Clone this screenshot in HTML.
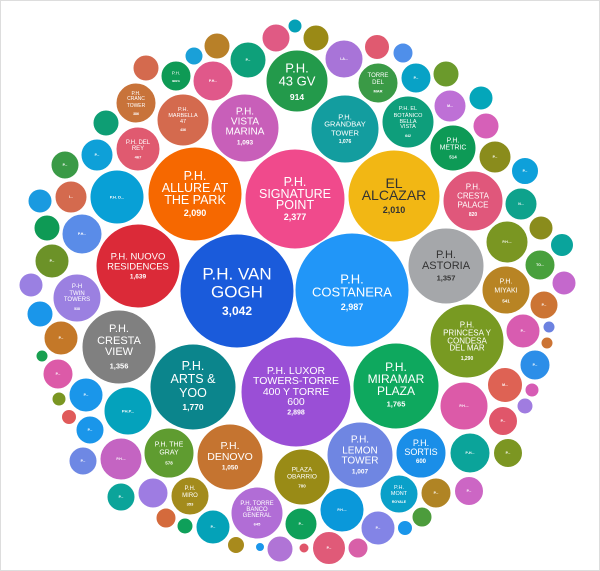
<!DOCTYPE html>
<html><head><meta charset="utf-8"><style>
html,body{margin:0;padding:0;background:#fff;}
svg{display:block;}
text{font-family:"Liberation Sans Narrow","Liberation Sans",sans-serif;fill:#fff;text-anchor:middle;dominant-baseline:central;}
.b{font-weight:bold;}
.d{fill:#333;}
circle{stroke:#fff;stroke-width:1;}
</style></head><body>
<svg width="600" height="571" viewBox="0 0 600 571" xmlns="http://www.w3.org/2000/svg">
<rect x="0.5" y="0.5" width="599" height="570" fill="#fff" stroke="#ddd"/>
<!-- big -->
<circle cx="237" cy="291" r="57" fill="#1a5bdb"/>
<text x="237" y="274" font-size="17">P.H. VAN</text><text x="237" y="292" font-size="17">GOGH</text><text x="237" y="311" font-size="12" class="b">3,042</text>
<circle cx="352" cy="290" r="57" fill="#2196f8"/>
<text x="352" y="279" font-size="13">P.H.</text><text x="352" y="292" font-size="13">COSTANERA</text><text x="352" y="307" font-size="9" class="b">2,987</text>
<circle cx="296" cy="392" r="55" fill="#9a4fd6"/>
<text x="296" y="371" font-size="10.5">P.H. LUXOR</text><text x="296" y="381" font-size="10.5">TOWERS-TORRE</text><text x="296" y="392" font-size="10.5">400 Y TORRE</text><text x="296" y="402" font-size="10.5">600</text><text x="296" y="413" font-size="7" class="b">2,898</text>
<circle cx="295" cy="199" r="50" fill="#f04a8c"/>
<text x="295" y="182" font-size="12.5">P.H.</text><text x="295" y="194" font-size="12.5">SIGNATURE</text><text x="295" y="205" font-size="12.5">POINT</text><text x="295" y="217" font-size="9" class="b">2,377</text>
<circle cx="195" cy="194" r="47" fill="#f66800"/>
<text x="195" y="176" font-size="12.5">P.H.</text><text x="195" y="188" font-size="12.5">ALLURE AT</text><text x="195" y="200" font-size="12.5">THE PARK</text><text x="195" y="213" font-size="9" class="b">2,090</text>
<circle cx="394" cy="196" r="46" fill="#f2b714"/>
<text x="394" y="183" font-size="14" class="d">EL</text><text x="394" y="195" font-size="14" class="d">ALCAZAR</text><text x="394" y="210" font-size="9" class="b d">2,010</text>
<circle cx="138" cy="266" r="42" fill="#db2a38"/>
<text x="138" y="257" font-size="9.5">P.H. NUOVO</text><text x="138" y="267" font-size="9.5">RESIDENCES</text><text x="138" y="277" font-size="6.5" class="b">1,639</text>
<circle cx="446" cy="266" r="38" fill="#a5a7aa"/>
<text x="446" y="255" font-size="11" class="d">P.H.</text><text x="446" y="266" font-size="11" class="d">ASTORIA</text><text x="446" y="278" font-size="7.5" class="b d">1,357</text>
<circle cx="119" cy="347" r="37" fill="#808080"/>
<text x="119" y="329" font-size="11">P.H.</text><text x="119" y="341" font-size="11">CRESTA</text><text x="119" y="352" font-size="11">VIEW</text><text x="119" y="366" font-size="7.5" class="b">1,356</text>
<circle cx="193" cy="387" r="43" fill="#0b858c"/>
<text x="193" y="366" font-size="12.5">P.H.</text><text x="193" y="379" font-size="12.5">ARTS &amp;</text><text x="193" y="393" font-size="12.5">YOO</text><text x="193" y="407" font-size="8.5" class="b">1,770</text>
<circle cx="396" cy="386" r="43" fill="#0ea85e"/>
<text x="396" y="367" font-size="12">P.H.</text><text x="396" y="379" font-size="12">MIRAMAR</text><text x="396" y="391" font-size="12">PLAZA</text><text x="396" y="404" font-size="7.5" class="b">1,765</text>
<circle cx="467" cy="341" r="37" fill="#789a22"/>
<text x="467" y="325" font-size="8">P.H.</text><text x="467" y="333" font-size="8">PRINCESA Y</text><text x="467" y="341" font-size="8">CONDESA</text><text x="467" y="348" font-size="8">DEL MAR</text><text x="467" y="359" font-size="5" class="b">1,290</text>
<circle cx="230" cy="457" r="33" fill="#c57430"/>
<text x="230" y="446" font-size="10.5">P.H.</text><text x="230" y="457" font-size="10.5">DENOVO</text><text x="230" y="468" font-size="6.5" class="b">1,050</text>
<circle cx="360" cy="455" r="33" fill="#6f86e2"/>
<text x="360" y="440" font-size="10">P.H.</text><text x="360" y="451" font-size="10">LEMON</text><text x="360" y="461" font-size="10">TOWER</text><text x="360" y="472" font-size="6.5" class="b">1,007</text>
<circle cx="302" cy="477" r="28" fill="#998b16"/>
<text x="302" y="470" font-size="6.5">PLAZA</text><text x="302" y="477" font-size="6.5">OBARRIO</text><text x="302" y="486" font-size="4.5" class="b">700</text>
<circle cx="421" cy="453" r="25" fill="#1a8ee8"/>
<text x="421" y="443" font-size="9">P.H.</text><text x="421" y="452" font-size="9">SORTIS</text><text x="421" y="462" font-size="6" class="b">600</text>
<circle cx="399" cy="494" r="19" fill="#0aa0c9"/>
<text x="399" y="488" font-size="5.5">P.H.</text><text x="399" y="494" font-size="5.5">MONT</text><text x="399" y="502" font-size="3.5" class="b">ROYALE</text>
<circle cx="257" cy="513" r="26" fill="#b16dd6"/>
<text x="257" y="504" font-size="6">P.H. TORRE</text><text x="257" y="510" font-size="6">BANCO</text><text x="257" y="516" font-size="6">GENERAL</text><text x="257" y="524" font-size="4" class="b">645</text>
<circle cx="190" cy="496" r="19" fill="#a38b1c"/>
<text x="190" y="489" font-size="6">P.H.</text><text x="190" y="496" font-size="6">MIRO</text><text x="190" y="504" font-size="4" class="b">353</text>
<circle cx="169" cy="453" r="25" fill="#5f9c30"/>
<text x="169" y="445" font-size="7">P.H. THE</text><text x="169" y="453" font-size="7">GRAY</text><text x="169" y="463" font-size="4.5" class="b">578</text>
<circle cx="128" cy="411" r="24" fill="#04a2bc"/>
<text x="128" y="411" font-size="4" class="b">PH.P...</text>
<circle cx="117" cy="197" r="27" fill="#08a0d6"/>
<text x="117" y="197" font-size="4" class="b">P.H. D...</text>
<circle cx="245" cy="128" r="34" fill="#c85fb9"/>
<text x="245" y="112" font-size="10">P.H.</text><text x="245" y="122" font-size="10">VISTA</text><text x="245" y="132" font-size="10">MARINA</text><text x="245" y="143" font-size="6.5" class="b">1,093</text>
<circle cx="297" cy="81" r="31" fill="#239a4b"/>
<text x="297" y="68" font-size="13">P.H.</text><text x="297" y="81" font-size="13">43 GV</text><text x="297" y="97" font-size="8.5" class="b">914</text>
<circle cx="345" cy="129" r="34" fill="#139d9f"/>
<text x="345" y="117" font-size="7.5">P.H.</text><text x="345" y="124" font-size="7.5">GRANDBAY</text><text x="345" y="133" font-size="7.5">TOWER</text><text x="345" y="142" font-size="5" class="b">1,076</text>
<circle cx="408" cy="122" r="26" fill="#0e9e7b"/>
<text x="408" y="109" font-size="5.5">P.H. EL</text><text x="408" y="116" font-size="5.5">BOTÁNICO</text><text x="408" y="122" font-size="5.5">BELLA</text><text x="408" y="127" font-size="5.5">VISTA</text><text x="408" y="136" font-size="3.5" class="b">642</text>
<circle cx="378" cy="83" r="20" fill="#3a9a46"/>
<text x="378" y="76" font-size="6">TORRE</text><text x="378" y="83" font-size="6">DEL</text><text x="378" y="91" font-size="4" class="b">MAR</text>
<circle cx="453" cy="148" r="23" fill="#0d9a56"/>
<text x="453" y="141" font-size="7">P.H.</text><text x="453" y="148" font-size="7">METRIC</text><text x="453" y="157" font-size="4.5" class="b">514</text>
<circle cx="473" cy="201" r="30" fill="#e0577b"/>
<text x="473" y="187" font-size="8">P.H.</text><text x="473" y="196" font-size="8">CRESTA</text><text x="473" y="205" font-size="8">PALACE</text><text x="473" y="215" font-size="5" class="b">820</text>
<circle cx="506" cy="290" r="24" fill="#b88424"/>
<text x="506" y="282" font-size="7">P.H.</text><text x="506" y="291" font-size="7">MIYAKI</text><text x="506" y="301" font-size="4.5" class="b">541</text>
<circle cx="77" cy="298" r="24" fill="#9b80e1"/>
<text x="77" y="287" font-size="6">P-H</text><text x="77" y="294" font-size="6">TWIN</text><text x="77" y="300" font-size="6">TOWERS</text><text x="77" y="309" font-size="3.5" class="b">538</text>
<circle cx="183" cy="120" r="26" fill="#d46a4e"/>
<text x="183" y="110" font-size="5.5">P.H.</text><text x="183" y="116" font-size="5.5">MARBELLA</text><text x="183" y="122" font-size="5.5">47</text><text x="183" y="130" font-size="3.5" class="b">436</text>
<circle cx="136" cy="103" r="20" fill="#c8733a"/>
<text x="136" y="94" font-size="5">P.H.</text><text x="136" y="99" font-size="5">CRANC</text><text x="136" y="106" font-size="5">TOWER</text><text x="136" y="114" font-size="3.5" class="b">386</text>
<circle cx="138" cy="149" r="22" fill="#e05a70"/>
<text x="138" y="143" font-size="6">P.H. DEL</text><text x="138" y="149" font-size="6">REY</text><text x="138" y="157" font-size="4" class="b">467</text>
<circle cx="176" cy="76" r="15" fill="#0e9a55"/>
<text x="176" y="73" font-size="4.5">P.H.</text><text x="176" y="81" font-size="3" class="b">IBIZA</text>
<!-- small -->
<g font-size="3.5">
<circle cx="213" cy="81" r="20" fill="#e0588a"/><text x="213" y="81" font-size="3.5" class="b">P.H...</text>
<circle cx="248" cy="60" r="18" fill="#0ea07a"/><text x="248" y="60" font-size="3.5" class="b">P...</text>
<circle cx="276" cy="38" r="14" fill="#e05a84"/>
<circle cx="295" cy="26" r="7" fill="#04a0b6"/>
<circle cx="316" cy="38" r="13" fill="#9a8a16"/>
<circle cx="344" cy="59" r="19" fill="#a874d8"/><text x="344" y="59" font-size="3.5" class="b">LA...</text>
<circle cx="377" cy="47" r="12.5" fill="#e05a70"/>
<circle cx="403" cy="53" r="10" fill="#4f8fea"/>
<circle cx="416" cy="78" r="15" fill="#08a2c6"/><text x="416" y="78" font-size="3.5" class="b">P...</text>
<circle cx="446" cy="74" r="13" fill="#6b9a2c"/>
<circle cx="450" cy="106" r="16" fill="#be70d6"/><text x="450" y="106" font-size="3.5" class="b">M...</text>
<circle cx="481" cy="98" r="12" fill="#04a6ba"/>
<circle cx="486" cy="126" r="13" fill="#d660b8"/>
<circle cx="495" cy="157" r="16" fill="#8a8c1c"/><text x="495" y="157" font-size="3.5" class="b">P...</text>
<circle cx="525" cy="171" r="13.5" fill="#0ea0da"/><text x="525" y="171" font-size="3.5" class="b">P...</text>
<circle cx="521" cy="204" r="16" fill="#0ea28c"/><text x="521" y="204" font-size="3.5" class="b">N...</text>
<circle cx="541" cy="228" r="12" fill="#8a8c1c"/>
<circle cx="507" cy="242" r="21" fill="#7a9622"/><text x="507" y="242" font-size="3.5" class="b">P.H....</text>
<circle cx="562" cy="245" r="11.5" fill="#0aa49c"/>
<circle cx="540" cy="265" r="15" fill="#48a03c"/><text x="540" y="265" font-size="3.5" class="b">TO...</text>
<circle cx="564" cy="283" r="12" fill="#c468cc"/>
<circle cx="544" cy="305" r="14" fill="#cc7434"/><text x="544" y="305" font-size="3.5" class="b">P...</text>
<circle cx="549" cy="327" r="6" fill="#6c82e0"/>
<circle cx="547" cy="343" r="6" fill="#cc7434"/>
<circle cx="523" cy="331" r="17" fill="#d85cb0"/><text x="523" y="331" font-size="3.5" class="b">P...</text>
<circle cx="535" cy="365" r="15" fill="#2c8ee8"/><text x="535" y="365" font-size="3.5" class="b">P...</text>
<circle cx="505" cy="385" r="17.5" fill="#de6254"/><text x="505" y="385" font-size="3.5" class="b">M...</text>
<circle cx="532" cy="390" r="7" fill="#d65cb4"/>
<circle cx="525" cy="406" r="8" fill="#a07ce0"/>
<circle cx="464" cy="406" r="24" fill="#dc5aa8"/><text x="464" y="406" font-size="3.5" class="b">P.H....</text>
<circle cx="503" cy="421" r="14.5" fill="#e0566a"/><text x="503" y="421" font-size="3.5" class="b">P...</text>
<circle cx="470" cy="453" r="20" fill="#0ba49a"/><text x="470" y="453" font-size="3.5" class="b">P-H...</text>
<circle cx="508" cy="453" r="14.5" fill="#7c9622"/><text x="508" y="453" font-size="3.5" class="b">P...</text>
<circle cx="436" cy="493" r="15" fill="#b08424"/><text x="436" y="493" font-size="3.5" class="b">P...</text>
<circle cx="469" cy="491" r="14.5" fill="#cc66c4"/><text x="469" y="491" font-size="3.5" class="b">P...</text>
<circle cx="342" cy="510" r="22" fill="#0a98da"/><text x="342" y="510" font-size="3.5" class="b">P.H....</text>
<circle cx="301" cy="524" r="16" fill="#0ea05a"/><text x="301" y="524" font-size="3.5" class="b">P...</text>
<circle cx="378" cy="528" r="17" fill="#8384e6"/><text x="378" y="528" font-size="3.5" class="b">P...</text>
<circle cx="405" cy="528" r="7.5" fill="#1a96ea"/>
<circle cx="422" cy="517" r="10" fill="#4c9c3c"/>
<circle cx="329" cy="548" r="16.5" fill="#e05a78"/><text x="329" y="548" font-size="3.5" class="b">P...</text>
<circle cx="358" cy="548" r="10" fill="#d860a8"/>
<circle cx="304" cy="548" r="5" fill="#e0566a"/>
<circle cx="280" cy="549" r="13" fill="#b074d6"/>
<circle cx="260" cy="547" r="4.5" fill="#1a96ea"/>
<circle cx="236" cy="545" r="8.5" fill="#a88a1c"/>
<circle cx="213" cy="527" r="17" fill="#04a2b8"/><text x="213" y="527" font-size="3.5" class="b">P...</text>
<circle cx="185" cy="526" r="8" fill="#0ea05a"/>
<circle cx="166" cy="518" r="10" fill="#d46a3c"/>
<circle cx="153" cy="493" r="15" fill="#9e7ce2"/>
<circle cx="121" cy="497" r="14" fill="#0ba49a"/><text x="121" y="497" font-size="3.5" class="b">P...</text>
<circle cx="121" cy="459" r="21" fill="#c464c2"/><text x="121" y="459" font-size="3.5" class="b">P.H....</text>
<circle cx="83" cy="461" r="14" fill="#6e88e4"/><text x="83" y="461" font-size="3.5" class="b">P...</text>
<circle cx="90" cy="430" r="14" fill="#1a96ea"/><text x="90" y="430" font-size="3.5" class="b">P...</text>
<circle cx="69" cy="417" r="7.5" fill="#e05a5a"/>
<circle cx="86" cy="395" r="17" fill="#1a96ea"/><text x="86" y="395" font-size="3.5" class="b">P...</text>
<circle cx="59" cy="399" r="7" fill="#7a9622"/>
<circle cx="58" cy="374" r="15" fill="#dc5aa8"/><text x="58" y="374" font-size="3.5" class="b">P...</text>
<circle cx="42" cy="356" r="6" fill="#18a050"/>
<circle cx="61" cy="338" r="17" fill="#c47828"/><text x="61" y="338" font-size="3.5" class="b">P...</text>
<circle cx="40" cy="314" r="13" fill="#1a96ea"/>
<circle cx="31" cy="285" r="12" fill="#9a80e2"/>
<circle cx="52" cy="261" r="17" fill="#6c9228"/><text x="52" y="261" font-size="3.5" class="b">P...</text>
<circle cx="82" cy="234" r="20" fill="#5a8ce8"/><text x="82" y="234" font-size="3.5" class="b">P.H...</text>
<circle cx="47" cy="228" r="13" fill="#0e9a55"/>
<circle cx="40" cy="201" r="12" fill="#1a9ae0"/>
<circle cx="71" cy="197" r="16" fill="#d46a4e"/><text x="71" y="197" font-size="3.5" class="b">I...</text>
<circle cx="65" cy="165" r="14" fill="#3a9a46"/><text x="65" y="165" font-size="3.5" class="b">P...</text>
<circle cx="97" cy="155" r="16" fill="#0ea0d8"/><text x="97" y="155" font-size="3.5" class="b">P...</text>
<circle cx="106" cy="123" r="13" fill="#0e9e74"/>
<circle cx="146" cy="68" r="13" fill="#d46a4e"/>
<circle cx="194" cy="56" r="9" fill="#1aa0d8"/>
<circle cx="217" cy="46" r="13" fill="#b88028"/>
</g>
</svg>
</body></html>
